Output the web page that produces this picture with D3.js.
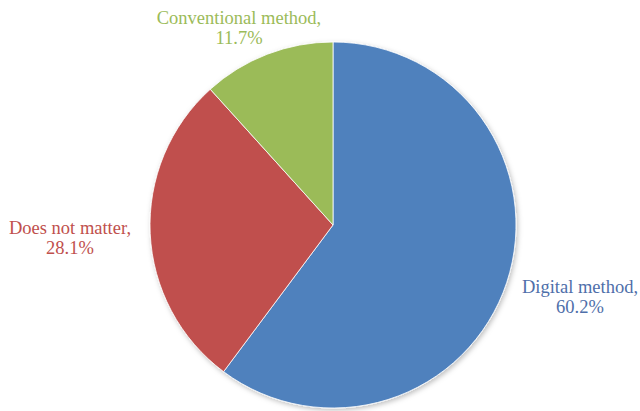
<!DOCTYPE html>
<html>
<head>
<meta charset="utf-8">
<script src="https://cdn.jsdelivr.net/npm/d3@7"></script>
<style>
body { margin: 0; background: #fff; }
text { font-family: "Liberation Serif", "Times New Roman", serif; font-size: 18.5px; }
</style>
</head>
<body>
<script>
let categories = ["Digital method", "Does not matter", "Conventional method"];
let values = [60.2, 28.1, 11.7];
let colors = ["#4F81BD", "#C0504D", "#9BBB59"];
let textColors = ["#4F6FAA", "#C0504D", "#9BBB59"];
// label centres (x, first baseline y)
let labelPos = [[580, 293], [70, 234], [239, 24]];

let width = 640, height = 411;
let cx = 333, cy = 225, radius = 183;

let svg = d3.select("body").append("svg")
    .attr("width", width)
    .attr("height", height);

let defs = svg.append("defs");
let filter = defs.append("filter").attr("id", "shadow")
    .attr("x", "-10%").attr("y", "-10%").attr("width", "120%").attr("height", "120%");
filter.append("feDropShadow")
    .attr("dx", 1.5).attr("dy", 2).attr("stdDeviation", 2.5)
    .attr("flood-color", "#000").attr("flood-opacity", 0.25);

let data = categories.map(function(c, i) {
    return {label: c, value: values[i], color: colors[i]};
});

let pie = d3.pie()
    .sort(null)
    .value(function(d) { return d.value; });

let arc = d3.arc()
    .innerRadius(0)
    .outerRadius(radius);

let g = svg.append("g")
    .attr("transform", "translate(" + cx + "," + cy + ")")
    .attr("filter", "url(#shadow)");

g.selectAll("path.slice")
    .data(pie(data))
    .enter()
    .append("path")
    .attr("class", "slice")
    .attr("d", arc)
    .style("fill", function(d) { return d.data.color; })
    .style("stroke", "#fff")
    .style("stroke-width", 0.8);

let labels = svg.append("g").attr("class", "labels");
data.forEach(function(d, i) {
    let t = labels.append("text")
        .attr("text-anchor", "middle")
        .attr("fill", textColors[i]);
    t.append("tspan")
        .attr("x", labelPos[i][0])
        .attr("y", labelPos[i][1])
        .text(d.label + ",");
    t.append("tspan")
        .attr("x", labelPos[i][0])
        .attr("y", labelPos[i][1] + 20)
        .text(d.value.toFixed(1) + "%");
});
</script>
</body>
</html>
